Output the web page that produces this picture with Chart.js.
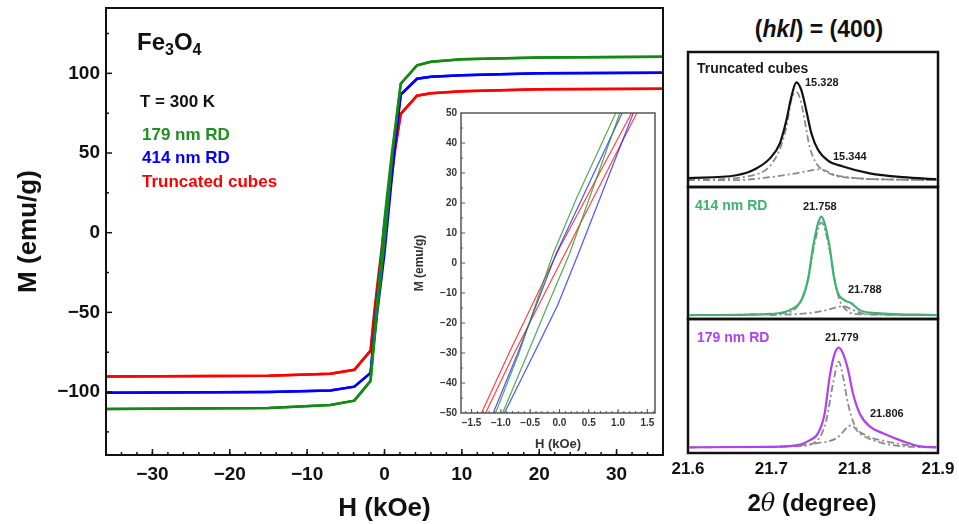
<!DOCTYPE html>
<html><head><meta charset="utf-8">
<script src="https://cdn.jsdelivr.net/npm/chart.js@4.4.1/dist/chart.umd.min.js"></script>
<style>
html,body{margin:0;padding:0;background:#fff;width:959px;height:524px;overflow:hidden;font-family:"Liberation Sans",Arial,sans-serif;font-weight:bold;color:#111;}
canvas{position:absolute;}
.t{position:absolute;white-space:nowrap;line-height:1;}
</style></head><body>
<canvas id="main" style="left:0;top:0" width="680" height="524"></canvas>
<canvas id="inset" style="left:405px;top:100px" width="255" height="352"></canvas>
<canvas id="p1" style="left:684px;top:48px" width="258" height="143"></canvas>
<canvas id="p2" style="left:684px;top:183px" width="258" height="140"></canvas>
<canvas id="p3" style="left:660px;top:315px" width="299" height="174"></canvas>

<div class="t" style="left:137px;top:30px;font-size:24px">Fe<sub style="font-size:16px;vertical-align:-5px">3</sub>O<sub style="font-size:16px;vertical-align:-5px">4</sub></div>
<div class="t" style="left:140px;top:93px;font-size:17px">T = 300 K</div>
<div class="t" style="left:142px;top:126px;font-size:17px;color:#1f8f1f">179 nm RD</div>
<div class="t" style="left:142px;top:149px;font-size:17px;color:#0000ff">414 nm RD</div>
<div class="t" style="left:142px;top:173px;font-size:17px;color:#ff0000">Truncated cubes</div>

<div class="t" style="left:819px;top:18px;font-size:23px;transform:translateX(-50%)">(<i>hkl</i>) = (400)</div>
<div class="t" style="left:697px;top:61px;font-size:14px;color:#1a1a1a">Truncated cubes</div>
<div class="t" style="left:805px;top:77px;font-size:11px;color:#1a1a1a">15.328</div>
<div class="t" style="left:833px;top:151px;font-size:11px;color:#1a1a1a">15.344</div>
<div class="t" style="left:695px;top:198px;font-size:14px;color:#3cb36e">414 nm RD</div>
<div class="t" style="left:803px;top:201px;font-size:11px;color:#1a1a1a">21.758</div>
<div class="t" style="left:848px;top:284px;font-size:11px;color:#1a1a1a">21.788</div>
<div class="t" style="left:697px;top:330px;font-size:14px;color:#b040f0">179 nm RD</div>
<div class="t" style="left:825px;top:332px;font-size:11px;color:#1a1a1a">21.779</div>
<div class="t" style="left:870px;top:408px;font-size:11px;color:#1a1a1a">21.806</div>
<div class="t" style="left:812px;top:491px;font-size:24px;transform:translateX(-50%)">2<i style="font-family:'DejaVu Serif',serif;font-weight:normal">θ</i> (degree)</div>

<script>
// ---------- Hysteresis loops (H in kOe, M in emu/g) ----------
const greenDownH = [36, 20, 10, 6, 4.2, 2.1, 0.96, 0.3, -0.11, -0.69, -1.09, -1.8, -3.9, -7, -15, -36];
const greenDownM = [110.4, 110, 108.8, 107.3, 105, 93.5, 50, 22, 3, -30, -50, -93, -105.4, -108.1, -110, -110.6];
const greenUpH = [-36, -15, -7, -3.9, -1.8, -0.97, -0.54, -0.2, 0.17, 1.03, 2.1, 4.2, 6, 10, 20, 36];
const greenUpM = [-110.6, -110, -108.1, -105.4, -93, -50, -30, -14, 3, 50, 93.5, 105, 107.3, 108.8, 110, 110.4];
const blueDownH = [36, 20, 10, 6, 4.2, 2.1, 1.07, -0.06, -0.71, -1.13, -1.8, -3.9, -7, -15, -36];
const blueDownM = [100.4, 100, 98.8, 97.8, 96.6, 86.6, 50, 3, -30, -50, -88, -96.6, -99, -100, -100.4];
const blueUpH = [-36, -15, -7, -3.9, -1.8, -0.94, -0.43, -0.03, 0.32, 1.26, 2.1, 4.2, 6, 10, 20, 36];
const blueUpM = [-100.4, -100, -99, -96.6, -88, -50, -30, -14, 3, 50, 86.6, 96.6, 97.8, 98.8, 100, 100.4];
const redDownH = [36, 20, 10, 6, 4.2, 2.1, 1.23, 0.0, -0.86, -1.33, -1.8, -3.9, -7, -15, -36];
const redDownM = [90.3, 90, 88.8, 87.5, 86, 74.6, 50, 5, -30, -50, -74, -86, -88.5, -89.8, -90.3];
const redUpH = [-36, -15, -7, -3.9, -1.8, -1.26, -0.77, 0.09, 1.32, 2.1, 4.2, 6, 10, 20, 36];
const redUpM = [-90.3, -89.8, -88.5, -86, -74, -50, -30, 3, 50, 74.6, 86, 87.5, 88.8, 90, 90.3];

const mainHTicks = [-30, -20, -10, 0, 10, 20, 30];
const mainHTickLabels = ['\u221230', '\u221220', '\u221210', '0', '10', '20', '30'];
const mainMTicks = [-100, -50, 0, 50, 100];
const mainMTickLabels = ['\u2212100', '\u221250', '0', '50', '100'];
const insetHTicks = [-1.5, -1.0, -0.5, 0.0, 0.5, 1.0, 1.5];
const insetHTickLabels = ['\u22121.5', '\u22121.0', '\u22120.5', '0.0', '0.5', '1.0', '1.5'];
const insetMTicks = [-50, -40, -30, -20, -10, 0, 10, 20, 30, 40, 50];
const insetMTickLabels = ['\u221250', '\u221240', '\u221230', '\u221220', '\u221210', '0', '10', '20', '30', '40', '50'];

// ---------- XRD (400) peaks: 2theta (degree), normalised intensity ----------
const cubesAngle = [15.197, 15.255, 15.279, 15.295, 15.307, 15.315, 15.321, 15.327, 15.333, 15.339, 15.345, 15.353, 15.365, 15.383, 15.415, 15.455, 15.495];
const cubesIntensity = [0.02, 0.05, 0.12, 0.22, 0.37, 0.61, 0.85, 1.0, 0.92, 0.71, 0.48, 0.31, 0.20, 0.14, 0.07, 0.03, 0.01];
const cubesFit1Angle = [15.197, 15.275, 15.303, 15.315, 15.321, 15.327, 15.332, 15.337, 15.343, 15.351, 15.363, 15.383, 15.495];
const cubesFit1Intensity = [0, 0.05, 0.24, 0.54, 0.82, 0.9, 0.82, 0.61, 0.34, 0.17, 0.085, 0.03, 0];
const cubesFit2Angle = [15.197, 15.255, 15.295, 15.327, 15.355, 15.375, 15.399, 15.455, 15.495];
const cubesFit2Intensity = [0, 0, 0.03, 0.07, 0.11, 0.05, 0.02, 0.005, 0];

const rd414Angle = [21.602, 21.698, 21.722, 21.736, 21.744, 21.750, 21.756, 21.760, 21.764, 21.770, 21.775, 21.780, 21.788, 21.796, 21.806, 21.826, 21.898];
const rd414Intensity = [0, 0.01, 0.05, 0.15, 0.36, 0.69, 0.93, 1.0, 0.93, 0.69, 0.39, 0.22, 0.15, 0.12, 0.05, 0.02, 0];
const rd414Fit1Angle = [21.602, 21.714, 21.734, 21.744, 21.751, 21.760, 21.770, 21.776, 21.782, 21.790, 21.802, 21.898];
const rd414Fit1Intensity = [0, 0.02, 0.12, 0.36, 0.69, 0.94, 0.66, 0.36, 0.15, 0.05, 0.01, 0];
const rd414Fit2Angle = [21.698, 21.746, 21.766, 21.786, 21.798, 21.814, 21.898];
const rd414Fit2Intensity = [0, 0.02, 0.05, 0.09, 0.05, 0.01, 0];

const rd179Angle = [21.602, 21.698, 21.730, 21.746, 21.756, 21.764, 21.770, 21.776, 21.781, 21.786, 21.792, 21.798, 21.806, 21.818, 21.834, 21.858, 21.878, 21.898];
const rd179Intensity = [0, 0.005, 0.02, 0.07, 0.14, 0.34, 0.71, 0.94, 1.0, 0.94, 0.78, 0.54, 0.34, 0.21, 0.14, 0.06, 0.01, 0];
const rd179Fit1Angle = [21.602, 21.730, 21.754, 21.766, 21.774, 21.781, 21.786, 21.792, 21.800, 21.814, 21.838, 21.866, 21.898];
const rd179Fit1Intensity = [0, 0.01, 0.06, 0.27, 0.64, 0.86, 0.71, 0.44, 0.22, 0.12, 0.06, 0.02, 0];
const rd179Fit2Angle = [21.698, 21.754, 21.778, 21.796, 21.806, 21.826, 21.858, 21.898];
const rd179Fit2Intensity = [0, 0.04, 0.09, 0.22, 0.14, 0.06, 0.01, 0];

const xrdTicks = [21.6, 21.7, 21.8, 21.9];
const xrdTickLabels = ['21.6', '21.7', '21.8', '21.9'];

// ---------- helpers ----------
const FAM = '"Liberation Sans", Arial, sans-serif';
const pts = (xs, ys) => xs.map((x, i) => ({x: x, y: ys[i]}));
const range = (a, b, s) => { const r = []; for (let v = a; v <= b + 1e-9; v += s) r.push(+v.toFixed(4)); return r; };

const framePlugin = {
  id: 'frame',
  beforeDatasetsDraw(chart, args, o) {
    if (!o || !o.bg) return;
    const a = chart.chartArea, ctx = chart.ctx;
    ctx.save(); ctx.fillStyle = o.bg; ctx.fillRect(a.left, a.top, a.right - a.left, a.bottom - a.top); ctx.restore();
  },
  afterDatasetsDraw(chart, args, o) {
    if (!o || !o.color) return;
    const a = chart.chartArea, ctx = chart.ctx;
    ctx.save();
    ctx.strokeStyle = o.color; ctx.lineWidth = o.width;
    ctx.strokeRect(a.left, a.top, a.right - a.left, a.bottom - a.top);
    ctx.lineWidth = o.tickWidth || 1.5;
    const drawX = (vals, len) => vals.forEach(v => {
      const p = chart.scales.x.getPixelForValue(v);
      if (p <= a.left + 1 || p >= a.right - 1) return;
      ctx.beginPath(); ctx.moveTo(p, a.bottom); ctx.lineTo(p, a.bottom - len); ctx.stroke();
    });
    const drawY = (vals, len) => vals.forEach(v => {
      const p = chart.scales.y.getPixelForValue(v);
      if (p <= a.top + 1 || p >= a.bottom - 1) return;
      ctx.beginPath(); ctx.moveTo(a.left, p); ctx.lineTo(a.left + len, p); ctx.stroke();
    });
    if (o.xMajor) drawX(o.xMajor, o.majorLen);
    if (o.xMinor) drawX(o.xMinor, o.minorLen);
    if (o.yMajor) drawY(o.yMajor, o.majorLen);
    if (o.yMinor) drawY(o.yMinor, o.minorLen);
    ctx.restore();
  }
};
Chart.register(framePlugin);

function loopSets(widths, colors) {
  return [
    {data: pts(greenDownH, greenDownM), borderColor: colors[0], borderWidth: widths},
    {data: pts(greenUpH, greenUpM), borderColor: colors[0], borderWidth: widths},
    {data: pts(blueDownH, blueDownM), borderColor: colors[1], borderWidth: widths},
    {data: pts(blueUpH, blueUpM), borderColor: colors[1], borderWidth: widths},
    {data: pts(redDownH, redDownM), borderColor: colors[2], borderWidth: widths},
    {data: pts(redUpH, redUpM), borderColor: colors[2], borderWidth: widths}
  ].map(d => Object.assign(d, {pointRadius: 0, tension: 0, fill: false}));
}
const tickFont = (s) => ({family: FAM, size: s, weight: 'bold'});
const labelOf = (vals, labels) => (v) => { const i = vals.findIndex(t => Math.abs(t - v) < 1e-6); return i < 0 ? '' : labels[i]; };
const fitX = (h) => (s) => { s.height = h; s.paddingLeft = 0; s.paddingRight = 0; };
const fitY = (w) => (s) => { s.width = w; s.paddingTop = 0; s.paddingBottom = 0; };
const noGrid = {display: false, drawTicks: false};

// ---------- main chart ----------
new Chart(document.getElementById('main'), {
  type: 'line',
  data: {datasets: loopSets(2.5, ['#138a13', '#0000ff', '#ff0000'])},
  options: {
    responsive: false, animation: false, events: [],
    layout: {padding: {top: 8, right: 17, left: 0, bottom: 0}},
    plugins: {legend: {display: false}, tooltip: {enabled: false},
      frame: {color: '#111', width: 2, tickWidth: 1.5, majorLen: 6, minorLen: 3,
        xMajor: mainHTicks, xMinor: range(-34, 34, 2), yMajor: mainMTicks, yMinor: [-125, -75, -25, 25, 75, 125]}},
    scales: {
      x: {type: 'linear', min: -36, max: 36, grid: noGrid, border: {display: false},
        afterBuildTicks: s => { s.ticks = mainHTicks.map(v => ({value: v})); },
        afterFit: fitX(69),
        ticks: {callback: labelOf(mainHTicks, mainHTickLabels), font: tickFont(19), color: '#111', padding: 8, maxRotation: 0, autoSkip: false},
        title: {display: true, text: 'H (kOe)', font: {family: FAM, size: 26, weight: 'bold'}, color: '#111', padding: {top: 1, bottom: 0}}},
      y: {type: 'linear', min: -139.5, max: 141, grid: noGrid, border: {display: false},
        afterBuildTicks: s => { s.ticks = mainMTicks.map(v => ({value: v})); },
        afterFit: fitY(106),
        ticks: {callback: labelOf(mainMTicks, mainMTickLabels), font: tickFont(19), color: '#111', padding: 6, autoSkip: false},
        title: {display: true, text: 'M (emu/g)', font: {family: FAM, size: 26, weight: 'bold'}, color: '#111', padding: {top: 13, bottom: 0}}}
    }
  }
});

// ---------- inset ----------
new Chart(document.getElementById('inset'), {
  type: 'line',
  data: {datasets: loopSets(1.2, ['rgba(40,150,40,0.8)', 'rgba(30,40,255,0.8)', 'rgba(255,20,20,0.8)'])},
  options: {
    responsive: false, animation: false, events: [],
    layout: {padding: {top: 13, right: 5, left: 0, bottom: 0}},
    plugins: {legend: {display: false}, tooltip: {enabled: false},
      frame: {bg: '#fff', color: '#555', width: 1.5, tickWidth: 1, majorLen: 4, minorLen: 2,
        xMajor: insetHTicks, xMinor: range(-1.6, 1.6, 0.1), yMajor: insetMTicks, yMinor: range(-45, 45, 10)}},
    scales: {
      x: {type: 'linear', min: -1.68, max: 1.63, grid: noGrid, border: {display: false},
        afterBuildTicks: s => { s.ticks = insetHTicks.map(v => ({value: v})); },
        afterFit: fitX(39),
        ticks: {callback: labelOf(insetHTicks, insetHTickLabels), font: tickFont(10), color: '#333', padding: 4, maxRotation: 0, autoSkip: false},
        title: {display: true, text: 'H (kOe)', font: {family: FAM, size: 13, weight: 'bold'}, color: '#333', padding: {top: 2, bottom: 0}}},
      y: {type: 'linear', min: -50, max: 50, grid: noGrid, border: {display: false},
        afterBuildTicks: s => { s.ticks = insetMTicks.map(v => ({value: v})); },
        afterFit: fitY(56),
        ticks: {callback: labelOf(insetMTicks, insetMTickLabels), font: tickFont(10), color: '#333', padding: 4, autoSkip: false},
        title: {display: true, text: 'M (emu/g)', font: {family: FAM, size: 12, weight: 'bold'}, color: '#333', padding: {top: 7, bottom: 0}}}
    }
  }
});

// ---------- XRD panels ----------
function peakSets(mainX, mainY, color, f1x, f1y, f2x, f2y) {
  const fit = {borderColor: '#8a8a8a', borderWidth: 1.8, borderDash: [7, 3, 2, 3], pointRadius: 0, cubicInterpolationMode: 'monotone', fill: false};
  return [
    {data: pts(mainX, mainY), borderColor: color, borderWidth: 2.2, pointRadius: 0, cubicInterpolationMode: 'monotone', fill: false},
    Object.assign({data: pts(f1x, f1y)}, fit),
    Object.assign({data: pts(f2x, f2y)}, fit)
  ];
}
function panel(id, sets, xmin, xmax, ymin, ymax, pad, showX) {
  const xScale = {type: 'linear', min: xmin, max: xmax, display: showX, grid: noGrid, border: {display: false}};
  if (showX) {
    Object.assign(xScale, {
      afterBuildTicks: s => { s.ticks = xrdTicks.map(v => ({value: v})); },
      afterFit: fitX(36),
      ticks: {callback: labelOf(xrdTicks, xrdTickLabels), font: tickFont(17), color: '#111', padding: 6, maxRotation: 0, autoSkip: false}
    });
  }
  return new Chart(document.getElementById(id), {
    type: 'line',
    data: {datasets: sets},
    options: {
      responsive: false, animation: false, events: [],
      layout: {padding: pad},
      plugins: {legend: {display: false}, tooltip: {enabled: false}, frame: {color: '#111', width: 2.5}},
      scales: {x: xScale, y: {type: 'linear', min: ymin, max: ymax, display: false}}
    }
  });
}
panel('p1', peakSets(cubesAngle, cubesIntensity, '#111', cubesFit1Angle, cubesFit1Intensity, cubesFit2Angle, cubesFit2Intensity),
  15.197, 15.497, -0.07, 1.31, {top: 4, left: 4, right: 4, bottom: 4}, false);
panel('p2', peakSets(rd414Angle, rd414Intensity, '#3cb36e', rd414Fit1Angle, rd414Fit1Intensity, rd414Fit2Angle, rd414Fit2Intensity),
  21.6, 21.9, -0.04, 1.30, {top: 4, left: 4, right: 4, bottom: 4}, false);
panel('p3', peakSets(rd179Angle, rd179Intensity, '#b040f0', rd179Fit1Angle, rd179Fit1Intensity, rd179Fit2Angle, rd179Fit2Intensity),
  21.6, 21.9, -0.057, 1.288, {top: 4, left: 28, right: 21, bottom: 0}, true);
</script>
</body></html>
